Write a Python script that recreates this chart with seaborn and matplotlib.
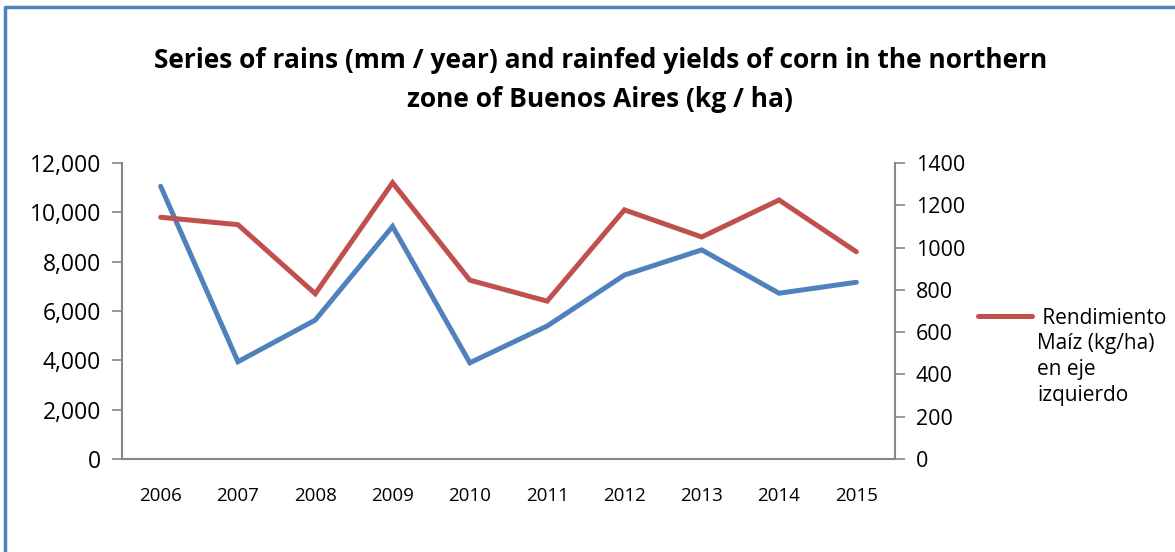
import numpy as np
import pandas as pd
import matplotlib
matplotlib.use("Agg")
import matplotlib.pyplot as plt
from matplotlib.lines import Line2D
from matplotlib.ticker import FuncFormatter, FixedLocator
import seaborn as sns

# datos
years = ["2006", "2007", "2008", "2009", "2010", "2011", "2012", "2013", "2014", "2015"]
rendimiento = [9800, 9500, 6700, 11200, 7250, 6400, 10100, 9000, 10500, 8400]   # kg/ha, eje izquierdo
lluvias = [1290, 460, 657, 1100, 455, 629, 870, 989, 784, 836]                   # mm/año, eje derecho

left_ticks = [0, 2000, 4000, 6000, 8000, 10000, 12000]
right_ticks = [0, 200, 400, 600, 800, 1000, 1200, 1400]

red = "#C0504D"
blue = "#4F81BD"
gray = "#868686"

sns.set_style("white")
plt.rcParams["font.family"] = ["Open Sans", "DejaVu Sans"]
plt.rcParams["text.color"] = "black"
plt.rcParams["xtick.labelcolor"] = "black"
plt.rcParams["ytick.labelcolor"] = "black"

df = pd.DataFrame({"pos": np.arange(len(years)), "year": years,
                   "rend": rendimiento, "rain": lluvias})

fig = plt.figure(figsize=(11.75, 5.52), dpi=100)
ax = fig.add_axes([122 / 1175, 1 - 459 / 552, (895 - 122) / 1175, (459 - 163) / 552])
ax2 = ax.twinx()

sns.lineplot(data=df, x="pos", y="rain", ax=ax2, color=blue, linewidth=3.6,
             solid_capstyle="round", solid_joinstyle="miter")
sns.lineplot(data=df, x="pos", y="rend", ax=ax, color=red, linewidth=3.6,
             solid_capstyle="round", solid_joinstyle="miter")
# rojo por encima del azul
ax.set_zorder(ax2.get_zorder() + 1)
ax.patch.set_visible(False)

ax.set_xlim(-0.5, len(years) - 0.5)
ax.set_ylim(0, 12000)
ax2.set_ylim(0, 1400)

ax.set_xticks(df["pos"])
ax.set_xticklabels(years, fontsize=13.5)
ax.xaxis.set_minor_locator(FixedLocator(np.arange(0.5, len(years) - 0.5, 1)))
ax.tick_params(axis="x", which="major", length=0, pad=20)
ax.tick_params(axis="x", which="minor", direction="in", length=6, color=gray, width=1.2)

ax.set_yticks(left_ticks)
ax.yaxis.set_major_formatter(FuncFormatter(lambda v, p: f"{int(v):,}"))
ax.tick_params(axis="y", direction="out", length=7, color=gray, width=1.2, labelsize=16.5, pad=8)
ax2.set_yticks(right_ticks)
ax2.tick_params(axis="y", direction="out", length=7, color=gray, width=1.2, labelsize=15.5, pad=8)

for a in (ax, ax2):
    a.set_xlabel("")
    a.set_ylabel("")
    a.spines["top"].set_visible(False)
    for s in ("left", "right", "bottom"):
        a.spines[s].set_color(gray)
        a.spines[s].set_linewidth(1.5)
ax.spines["right"].set_visible(False)
ax2.spines["left"].set_visible(False)
ax2.spines["bottom"].set_visible(False)

fig.text(0.511, 1 - 80 / 552, "Series of rains (mm / year) and rainfed yields of corn in the northern\nzone of Buenos Aires (kg / ha)",
         ha="center", va="center", fontsize=19, fontweight="bold", linespacing=1.55)

# leyenda (solo la serie roja, como en el original)
handle = Line2D([], [], color=red, linewidth=3.6, solid_capstyle="round")
fig.legend(handles=[handle], labels=[" Rendimiento"], loc="center left",
           bbox_to_anchor=(978 / 1175, 1 - 318 / 552), frameon=False, fontsize=15,
           handlelength=2.6, handletextpad=0.25, borderaxespad=0, borderpad=0)
fig.text(1037 / 1175, 1 - 333 / 552, "Maíz (kg/ha)\nen eje\nizquierdo", ha="left", va="top",
         fontsize=15, linespacing=1.3)

# marco del grafico
fig.add_artist(Line2D([5 / 1175, 5 / 1175, 1], [0, 1 - 7 / 552, 1 - 7 / 552],
                      color=blue, linewidth=2.5, transform=fig.transFigure))

fig.savefig("out.png", dpi=100, facecolor="white")
